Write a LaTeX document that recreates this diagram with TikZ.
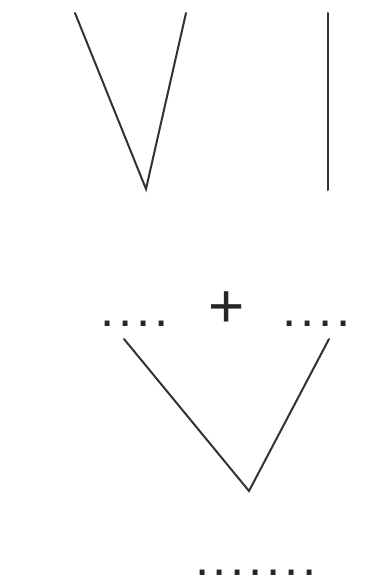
\documentclass[tikz,border=0pt]{standalone}
\usepackage{fontspec}
\setmainfont{Liberation Sans}
\begin{document}
\begin{tikzpicture}[x=1pt,y=-1pt,
  stroke/.style={draw=black!80, line width=2pt, line cap=round, line join=miter},
  dotrow/.style={inner sep=0pt, anchor=base, text=black!85, font=\fontsize{51}{51}\selectfont},
  plussign/.style={inner sep=0pt, anchor=base, text=black!85, font=\fontsize{62}{62}\selectfont}]
\useasboundingbox (0,0) rectangle (365,586);
% top V
\coordinate (a1) at (75,13);
\coordinate (a2) at (146,189);
\coordinate (a3) at (186,13);
\draw[stroke] (a1) -- (a2) -- (a3);
% vertical line
\coordinate (b1) at (328,13);
\coordinate (b2) at (328,190);
\draw[stroke] (b1) -- (b2);
% plus and dot rows
\node[plussign] (plus) at (227,327) {+};
\node[dotrow] (dl) at (134.5,326) {.\hspace{3.8pt}.\hspace{3.8pt}.\hspace{3.8pt}.};
\node[dotrow] (dr) at (317,326) {.\hspace{3.8pt}.\hspace{3.8pt}.\hspace{3.8pt}.};
% lower V
\coordinate (c1) at (124,339);
\coordinate (c2) at (249,491);
\coordinate (c3) at (329,339);
\draw[stroke] (c1) -- (c2) -- (c3);
% bottom dots
\node[dotrow] (db) at (256,575) {.\hspace{3.8pt}.\hspace{3.8pt}.\hspace{3.8pt}.\hspace{3.8pt}.\hspace{3.8pt}.\hspace{3.8pt}.};
\end{tikzpicture}
\end{document}
